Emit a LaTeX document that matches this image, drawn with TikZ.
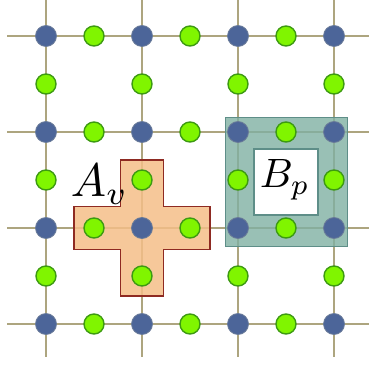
\documentclass[tikz,border=0pt]{standalone}
\begin{document}
\begin{tikzpicture}[x=1pt,y=1pt,
  gridline/.style={draw=gridc,line width=2.2pt},
  vtx/.style={circle,fill=bluec,draw=bluebd,line width=0.8pt,minimum size=21pt,inner sep=0pt},
  edg/.style={circle,fill=greenc,draw=greenbd,line width=1.4pt,minimum size=20pt,inner sep=0pt},
  lbl/.style={inner sep=0pt,anchor=base west}]
\definecolor{gridc}{HTML}{ADA57F}
\definecolor{bluec}{HTML}{4C6599}
\definecolor{bluebd}{HTML}{6A7B98}
\definecolor{greenc}{HTML}{80F500}
\definecolor{greenbd}{HTML}{3D9A12}
\definecolor{orangec}{HTML}{F4BE88}
\definecolor{orangebd}{HTML}{8E2A22}
\definecolor{tealc}{HTML}{7FB0A2}
\definecolor{tealbd}{HTML}{5E8E88}
\useasboundingbox (0,0) rectangle (369,364);
% grid end coordinates
\foreach \x [count=\i] in {46,142,238,334}{
  \coordinate (top\i) at (\x,364);
  \coordinate (bot\i) at (\x,7);
}
\foreach \y [count=\j] in {328,232,136,40}{
  \coordinate (lft\j) at (7,\y);
  \coordinate (rgt\j) at (369,\y);
}
\foreach \i in {1,...,4}{
  \draw[gridline] (top\i) -- (bot\i);
  \draw[gridline] (lft\i) -- (rgt\i);
}
% cross A_v
\fill[orangec,fill opacity=0.85] (120.5,204) -- (163.5,204) -- (163.5,157.5) -- (210,157.5) -- (210,114.5) -- (163.5,114.5) -- (163.5,68) -- (120.5,68) -- (120.5,114.5) -- (74,114.5) -- (74,157.5) -- (120.5,157.5) -- cycle;
\draw[orangebd,line width=1.2pt] (120.5,204) -- (163.5,204) -- (163.5,157.5) -- (210,157.5) -- (210,114.5) -- (163.5,114.5) -- (163.5,68) -- (120.5,68) -- (120.5,114.5) -- (74,114.5) -- (74,157.5) -- (120.5,157.5) -- cycle;
% plaquette B_p
\fill[tealc,fill opacity=0.8,even odd rule] (225,246) rectangle (347,117) (254,215) rectangle (318,149);
\draw[tealbd,line width=1pt] (225,246) rectangle (347,117);
\fill[white] (254,215) rectangle (318,149);
\draw[tealbd,line width=1.2pt] (254,215) rectangle (318,149);
% vertices
\foreach \x [count=\i] in {46,142,238,334}{
  \foreach \y [count=\j] in {328,232,136,40}{
    \node[vtx] (v\i\j) at (\x,\y) {};
  }
}
% edge qubits
\foreach \x [count=\i] in {94,190,286}{
  \foreach \y [count=\j] in {328,232,136,40}{
    \node[edg] (h\i\j) at (\x,\y) {};
  }
}
\foreach \x [count=\i] in {46,142,238,334}{
  \foreach \y [count=\j] in {280,184,88}{
    \node[edg] (e\i\j) at (\x,\y) {};
  }
}
% labels
\node[lbl,scale=4.7] (Av) at (70,167) {$A_v$};
\node[lbl,scale=4.1] (Bp) at (259,176) {$B_p$};
\end{tikzpicture}
\end{document}
